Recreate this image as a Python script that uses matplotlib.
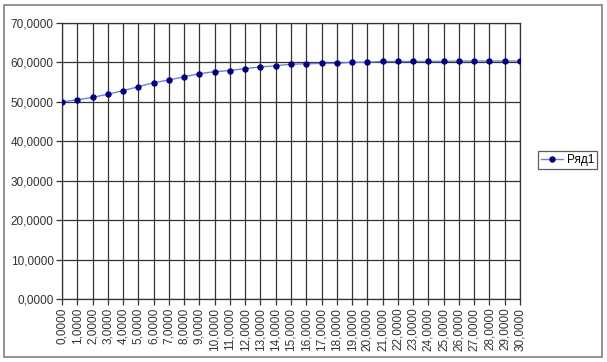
import matplotlib
matplotlib.use("Agg")
import matplotlib.pyplot as plt
from matplotlib.patches import Rectangle

x_values = list(range(0, 31))
series_values = [50.0, 50.5, 51.1, 51.9, 52.8, 53.8, 54.8, 55.5, 56.3, 57.1,
                 57.6, 57.9, 58.4, 58.8, 59.1, 59.5, 59.6, 59.7, 59.7, 60.0,
                 60.0, 60.2, 60.2, 60.2, 60.2, 60.2, 60.3, 60.3, 60.3, 60.3, 60.3]
series_name = "Ряд1"
y_ticks = [0, 10, 20, 30, 40, 50, 60, 70]

plt.rcParams['font.family'] = ['Liberation Sans', 'DejaVu Sans']

def fmt(v):
    return f"{v:.4f}".replace(".", ",")

W, H = 607, 362
fig = plt.figure(figsize=(W / 100, H / 100), dpi=100)
fig.patch.set_facecolor("white")
fig.patches.append(Rectangle((4 / W, 5 / H), (602 - 4) / W, (357 - 5) / H,
                             transform=fig.transFigure, fill=False,
                             edgecolor="#808080", linewidth=1.2))

ax = fig.add_axes([62 / W, 1 - 299.3 / H, (520 - 62) / W, (299.3 - 22.7) / H])
ax.plot(x_values, series_values, color="#7a7ad8", linewidth=1.0,
        marker="o", markersize=3.6, markerfacecolor="#000080",
        markeredgecolor="#000080", label=series_name, zorder=3)
ax.set_xlim(0, 30)
ax.set_ylim(0, 70)
ax.set_xticks(x_values)
ax.set_xticklabels([fmt(v) for v in x_values], rotation=90, fontsize=8.5,
                   color="#333333")
ax.set_yticks(y_ticks)
ax.set_yticklabels([fmt(v) for v in y_ticks], fontsize=8.5, color="#333333")
ax.grid(True, color="#333333", linewidth=0.9)
for s in ax.spines.values():
    s.set_color("#333333")
    s.set_linewidth(0.9)
ax.tick_params(length=4, width=0.9, color="#333333", pad=2)

leg = fig.legend(loc="upper left", bbox_to_anchor=(538 / W, 1 - 151 / H),
                 fontsize=8.5, frameon=True, fancybox=False, handlelength=1.9,
                 borderpad=0.25, handletextpad=0.3, borderaxespad=0)
leg.get_frame().set_edgecolor("#333333")
leg.get_frame().set_linewidth(0.9)

fig.savefig("out.png", dpi=100)
